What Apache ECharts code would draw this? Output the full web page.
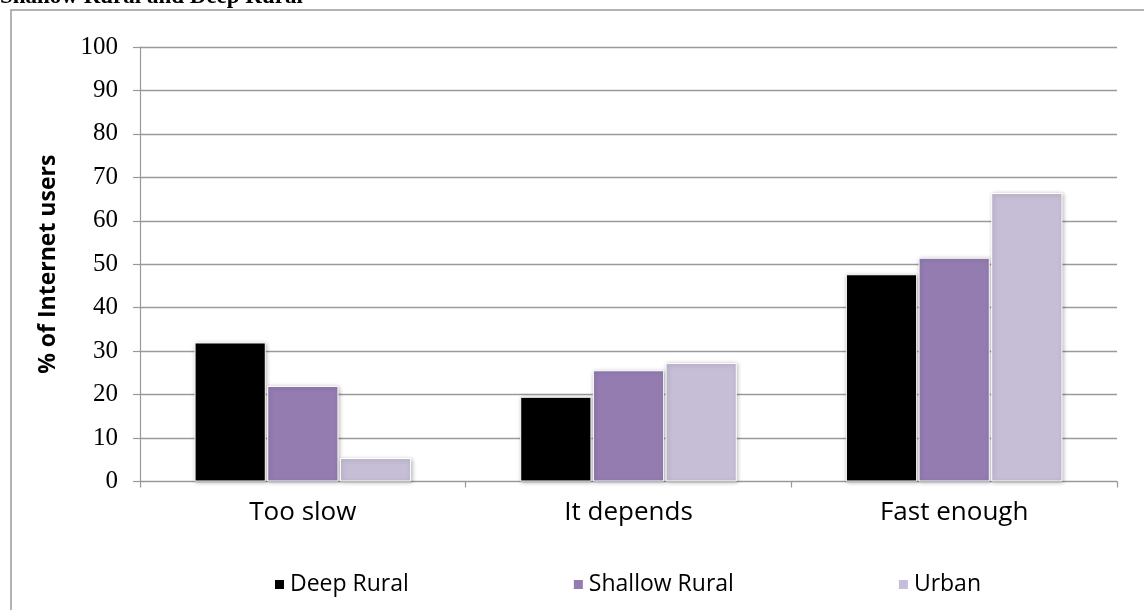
<!DOCTYPE html>
<html>
<head>
<meta charset="utf-8">
<script src="https://cdn.jsdelivr.net/npm/echarts@6/dist/echarts.min.js"></script>
<style>html,body{margin:0;padding:0;background:#fff;}#c{width:1144px;height:610px;}</style>
</head>
<body>
<div id="c"></div>
<script>
const categories = ['Too slow', 'It depends', 'Fast enough'];
const deepRural = [32.0, 19.5, 47.7];
const shallowRural = [22.0, 25.6, 51.5];
const urban = [5.4, 27.3, 66.4];
const seriesNames = ['Deep Rural', 'Shallow Rural', 'Urban'];
const yTicks = {min: 0, max: 100, interval: 10};
const titleText = 'Shallow Rural and Deep Rural';
const yAxisTitle = '% of Internet users';

const chart = echarts.init(document.getElementById('c'), null, {renderer: 'canvas'});
const sans = '"Open Sans", "Noto Sans", sans-serif';
const serif = '"Liberation Serif", "DejaVu Serif", serif';
const barStyle = (color) => ({
  color: color,
  borderColor: '#ffffff',
  borderWidth: 1,
  shadowColor: 'rgba(0,0,0,0.28)',
  shadowBlur: 4,
  shadowOffsetX: 1,
  shadowOffsetY: 1
});
chart.setOption({
  animation: false,
  backgroundColor: '#ffffff',
  graphic: [
    {type: 'rect', shape: {x: 11, y: 10, width: 1150, height: 620}, style: {fill: 'none', stroke: '#9a9a9a', lineWidth: 1.5}, z: 0},
    {type: 'text', left: 0, top: -14, style: {text: titleText, font: 'bold 23px ' + serif, fill: '#000'}}
  ],
  grid: {left: 140, right: 27, top: 47, bottom: 128.5, containLabel: false},
  legend: {
    data: seriesNames,
    left: 268,
    top: 568,
    itemWidth: 11,
    itemHeight: 11,
    itemGap: 163,
    icon: 'rect',
    textStyle: {fontFamily: sans, fontSize: 23, color: '#000'}
  },
  xAxis: {
    type: 'category',
    data: categories,
    axisLine: {lineStyle: {color: '#999', width: 1.2}},
    axisTick: {show: true, alignWithLabel: false, length: 6, lineStyle: {color: '#999', width: 1.2}},
    axisLabel: {fontFamily: sans, fontSize: 26, color: '#000', margin: 18},
    splitLine: {show: false}
  },
  yAxis: {
    type: 'value',
    min: yTicks.min,
    max: yTicks.max,
    interval: yTicks.interval,
    name: yAxisTitle,
    nameLocation: 'middle',
    nameRotate: 90,
    nameGap: 80,
    nameTextStyle: {fontFamily: sans, fontSize: 23, fontWeight: 'bold', color: '#000'},
    axisLine: {show: true, lineStyle: {color: '#999', width: 1.2}},
    axisTick: {show: true, length: 7, lineStyle: {color: '#999', width: 1.2}},
    axisLabel: {fontFamily: serif, fontSize: 25, color: '#000', margin: 22},
    splitLine: {show: true, lineStyle: {color: '#9a9a9a', width: 1.3}}
  },
  series: [
    {name: seriesNames[0], type: 'bar', data: deepRural, barGap: '2%', barCategoryGap: '33.5%', itemStyle: barStyle('#000000')},
    {name: seriesNames[1], type: 'bar', data: shallowRural, itemStyle: barStyle('#947CB1')},
    {name: seriesNames[2], type: 'bar', data: urban, itemStyle: barStyle('#C6BED6')}
  ]
});
</script>
</body>
</html>
